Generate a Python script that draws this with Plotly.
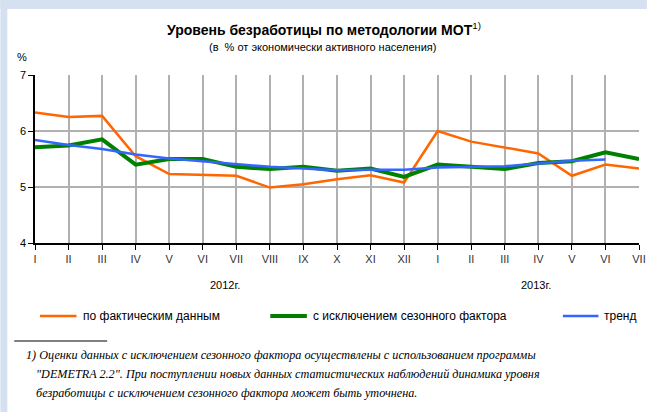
import plotly.graph_objects as go

months = ["I", "II", "III", "IV", "V", "VI", "VII", "VIII", "IX", "X", "XI", "XII",
          "I", "II", "III", "IV", "V", "VI", "VII"]
actual = [6.33, 6.25, 6.27, 5.55, 5.23, 5.21, 5.20, 4.99, 5.05, 5.14, 5.21, 5.08,
          6.00, 5.81, 5.70, 5.60, 5.20, 5.40, 5.33]
seasonal = [5.71, 5.74, 5.85, 5.40, 5.50, 5.50, 5.36, 5.32, 5.36, 5.29, 5.33, 5.18,
            5.40, 5.36, 5.32, 5.43, 5.46, 5.62, 5.50]
trend = [5.84, 5.75, 5.68, 5.58, 5.51, 5.46, 5.40, 5.36, 5.33, 5.30, 5.31, 5.31,
         5.35, 5.36, 5.37, 5.42, 5.47, 5.49]
year_labels = ["2012г.", "2013г."]
series_names = ["по фактическим данным", "с исключением сезонного фактора", "тренд"]
colors = ["#ff6600", "#008000", "#3366ff"]
widths = [2.5, 4, 2.5]

W, H = 654, 412
L, R, T, B = 35, 8, 75, 169
PW, PH = W - L - R, H - T - B


def px(x):
    return (x - L) / PW


def py(y):
    return (H - B - y) / PH


FONT = "Liberation Sans, Arial, sans-serif"


def ann(text, x, y, size, xanchor="center", family=FONT):
    return dict(text=text, x=px(x), y=py(y), xref="paper", yref="paper", showarrow=False,
                xanchor=xanchor, yanchor="middle",
                font=dict(size=size, family=family, color="black"))


fig = go.Figure()
for vals, name, c, w in zip([actual, seasonal, trend], series_names, colors, widths):
    fig.add_trace(go.Scatter(x=list(range(len(vals))), y=vals, mode="lines", name=name,
                             line=dict(color=c, width=w), showlegend=False))

shapes = [
    dict(type="rect", xref="paper", yref="paper", x0=px(0), x1=px(W), y0=py(9), y1=py(0),
         fillcolor="#d5e0f0", line_width=0, layer="below"),
    dict(type="rect", xref="paper", yref="paper", x0=px(0), x1=px(7), y0=py(H), y1=py(0),
         fillcolor="#d5e0f0", line_width=0, layer="below"),
    dict(type="line", xref="paper", yref="paper", x0=px(14), x1=px(108), y0=py(341), y1=py(341),
         line=dict(color="black", width=1)),
]
annotations = [
    ann("<b>Уровень безработицы по методологии МОТ</b><sup>1)</sup>", 327, 29, 14),
    ann("(в  % от экономически активного населения)", 326, 47, 11),
    ann("%", 22, 57, 11),
    ann(year_labels[0], 227, 285, 11),
    ann(year_labels[1], 542, 285, 11),
]
# legend drawn manually
leg = [(40, 77, 82), (273, 310, 314), (569, 605, 609)]
for (x0, x1, tx), name, c, w in zip(leg, series_names, colors, widths):
    shapes.append(dict(type="line", xref="paper", yref="paper", x0=px(x0), x1=px(x1),
                       y0=py(316), y1=py(316), line=dict(color=c, width=w)))
    annotations.append(ann(name, tx, 316, 12, xanchor="left"))

foot = [
    (24, 355, "1) Оценки данных с исключением сезонного фактора осуществлены с использованием программы"),
    (34, 374, "\"DEMETRA 2.2\". При поступлении новых данных статистических наблюдений динамика уровня"),
    (34, 393, "безработицы с исключением сезонного фактора может быть уточнена."),
]
for x, y, t in foot:
    annotations.append(ann("<i>" + t + "</i>", x, y, 12.2, xanchor="left",
                           family="Liberation Serif, serif"))

fig.update_layout(
    width=W, height=H, margin=dict(l=L, r=R, t=T, b=B),
    paper_bgcolor="white", plot_bgcolor="white",
    shapes=shapes, annotations=annotations,
    font=dict(family=FONT, size=11, color="black"),
)
fig.update_xaxes(range=[0, 18], tickmode="array", tickvals=list(range(len(months))), ticktext=months,
                 showgrid=True, gridcolor="#b0b0b0", gridwidth=1.5, showline=True, linecolor="black",
                 linewidth=1.5, ticks="outside", ticklen=5, tickcolor="black", zeroline=False,
                 tickfont=dict(size=11, color="#333333"), fixedrange=True)
fig.update_yaxes(range=[4, 7], tickvals=[4, 5, 6, 7], showgrid=True, gridcolor="#b0b0b0", gridwidth=1.5,
                 showline=True, linecolor="black", linewidth=1.5, ticks="outside", ticklen=5,
                 tickcolor="black", zeroline=False, tickfont=dict(size=11), fixedrange=True)
fig.write_html("out.html", config={"displayModeBar": False},
               post_script="document.body.style.margin='0';")
